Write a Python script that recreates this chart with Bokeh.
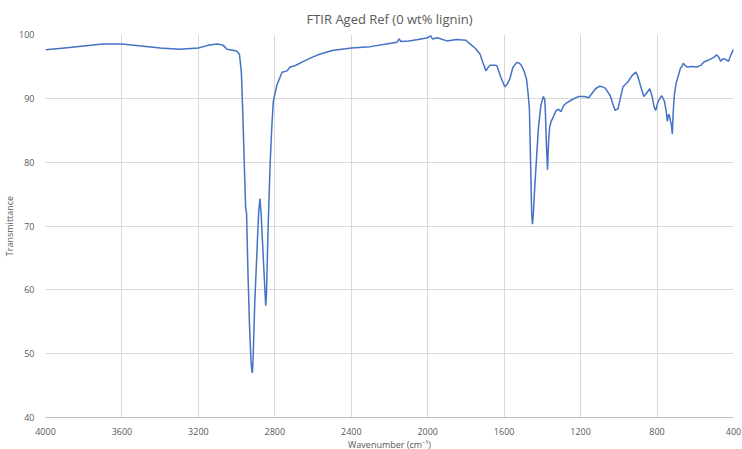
from bokeh.plotting import figure
from bokeh.models import Range1d, FixedTicker
from bokeh.embed import file_html
from bokeh.resources import INLINE

wavenumber = [4000, 3900, 3800, 3700, 3600, 3500, 3400, 3300, 3200, 3150, 3100, 3070, 3050, 3000,
              2985, 2975, 2968, 2960, 2953, 2948, 2940, 2932, 2925, 2920, 2917, 2913, 2905, 2895,
              2885, 2878, 2872, 2862, 2852, 2848, 2844, 2835, 2824, 2815, 2808, 2790, 2762, 2736,
              2720, 2695, 2650, 2600, 2566, 2500, 2400, 2300, 2200, 2160, 2150, 2140, 2100, 2050,
              2000, 1985, 1975, 1950, 1900, 1850, 1800, 1777, 1750, 1726, 1710, 1695, 1685, 1674,
              1650, 1638, 1620, 1597, 1585, 1571, 1555, 1535, 1520, 1509, 1495, 1483, 1474, 1468,
              1462, 1456, 1452, 1447, 1442, 1432, 1421, 1408, 1395, 1388, 1385, 1378, 1373, 1368,
              1362, 1354, 1340, 1328, 1315, 1303, 1290, 1277, 1250, 1210, 1180, 1158, 1140, 1122,
              1100, 1086, 1071, 1045, 1030, 1019, 1004, 990, 978, 952, 930, 911, 901, 885, 869,
              855, 838, 825, 815, 807, 795, 777, 770, 761, 752, 746, 740, 735, 730, 725, 720, 716,
              710, 700, 694, 678, 670, 663, 655, 642, 620, 591, 570, 555, 530, 500, 488, 478, 467,
              455, 441, 426, 415, 400]
transmittance = [97.6, 97.9, 98.2, 98.5, 98.5, 98.2, 97.9, 97.7, 97.9, 98.3, 98.5, 98.3, 97.7, 97.4,
                 96.9, 94.0, 88.0, 80.0, 73.0, 72.0, 62.0, 54.0, 49.0, 47.2, 47.0, 50.0, 58.0, 65.0,
                 72.0, 74.3, 72.0, 66.0, 60.0, 57.5, 59.0, 70.0, 80.2, 86.0, 89.5, 92.0, 94.1, 94.3,
                 94.9, 95.1, 95.8, 96.5, 96.9, 97.5, 97.9, 98.1, 98.6, 98.8, 99.3, 98.9, 99.0, 99.2,
                 99.5, 99.8, 99.3, 99.5, 99.0, 99.2, 99.1, 98.5, 97.8, 96.9, 95.5, 94.3, 94.8, 95.2,
                 95.2, 95.1, 93.5, 91.8, 92.2, 93.0, 94.8, 95.6, 95.5, 95.1, 94.2, 93.0, 90.5, 88.4,
                 80.2, 72.0, 70.3, 72.0, 75.0, 80.0, 85.3, 88.9, 90.3, 89.8, 88.4, 82.0, 78.8, 83.0,
                 85.5, 86.4, 87.3, 88.1, 88.3, 87.9, 88.8, 89.2, 89.7, 90.3, 90.3, 90.1, 90.8, 91.5,
                 91.9, 91.8, 91.6, 90.4, 89.0, 88.1, 88.4, 90.3, 91.8, 92.6, 93.6, 94.1, 93.5, 91.8, 90.3,
                 90.8, 91.5, 90.2, 88.6, 88.1, 89.5, 90.4, 90.1, 89.5, 87.9, 86.4, 87.5, 87.3, 86.5, 85.8, 84.4, 87.5,
                 90.4, 92.4, 93.0, 94.7, 95.0, 95.5, 95.2, 94.9, 95.0, 94.9, 95.2, 95.7, 96.0, 96.5, 96.8, 96.5, 95.8,
                 96.2, 96.1, 95.8, 96.7, 97.7]

x_ticks = [4000, 3600, 3200, 2800, 2400, 2000, 1600, 1200, 800, 400]
y_ticks = [40, 50, 60, 70, 80, 90, 100]

FONT = "Open Sans"
GREY = "#595959"

p = figure(frame_width=688, frame_height=383, output_backend="svg", toolbar_location=None,
           x_range=Range1d(4000, 400), y_range=Range1d(40, 100),
           title="FTIR Aged Ref (0 wt% lignin)",
           min_border_left=2, min_border_right=9, min_border_top=4, min_border_bottom=0)

p.title.align = "center"
p.title.text_font = FONT
p.title.text_font_size = "13px"
p.title.text_font_style = "normal"
p.title.text_color = GREY
p.title.standoff = 14

p.line(wavenumber, transmittance, line_color="#4472C4", line_width=1.5)

p.outline_line_color = None
p.xaxis.ticker = FixedTicker(ticks=x_ticks)
p.yaxis.ticker = FixedTicker(ticks=y_ticks)
p.xaxis.axis_label = "Wavenumber (cm\u207b\u00b9)"
p.yaxis.axis_label = "Transmittance"
for ax in (p.xaxis, p.yaxis):
    ax.axis_label_text_font = FONT
    ax.axis_label_text_font_size = "9px"
    ax.axis_label_text_font_style = "normal"
    ax.axis_label_text_color = GREY
    ax.major_label_text_font = FONT
    ax.major_label_text_font_size = "9px"
    ax.major_label_text_color = GREY
    ax.major_tick_line_color = None
    ax.minor_tick_line_color = None
    ax.axis_label_standoff = 0
    ax.major_label_standoff = 4
p.yaxis.major_label_standoff = 5
p.xaxis.axis_line_color = "#bfbfbf"
p.yaxis.axis_line_color = None
p.xgrid.grid_line_color = "#d9d9d9"
p.ygrid.grid_line_color = "#d9d9d9"

open("out.html", "w").write(file_html(p, INLINE))
